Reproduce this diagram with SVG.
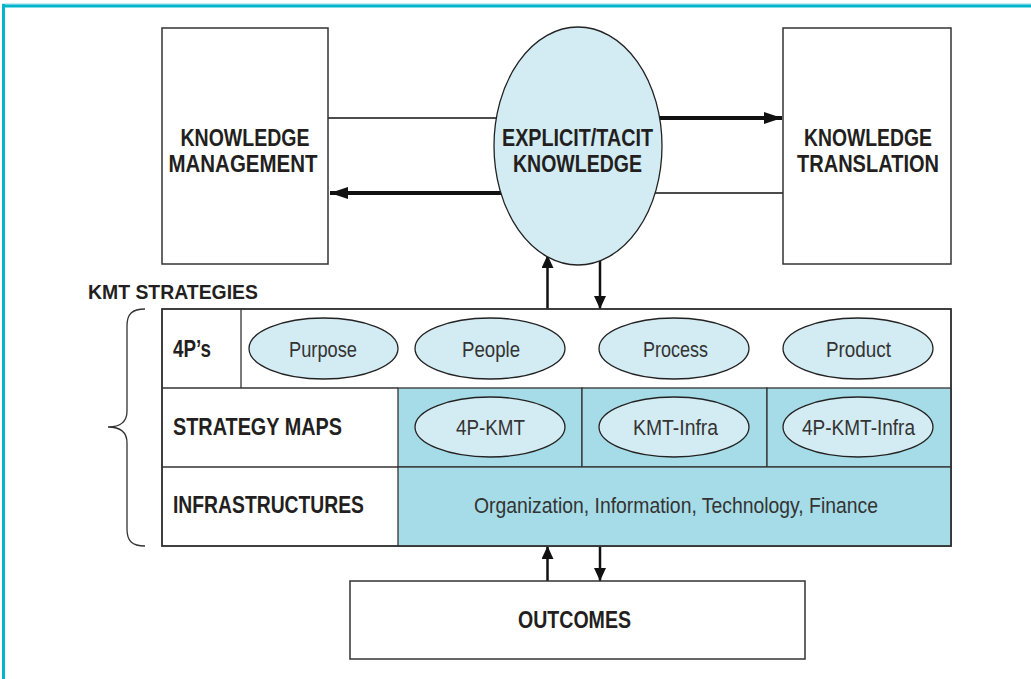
<svg xmlns="http://www.w3.org/2000/svg" width="1031" height="679" viewBox="0 0 1031 679">
<style>
.box{fill:#fff;stroke:#333;stroke-width:1.5}
.ell{fill:#d3ebf2;stroke:#222;stroke-width:1.3}
.teal{fill:#a6dce7;stroke:#333;stroke-width:1.3}
.ln{stroke:#333;stroke-width:1.3;fill:none}
.thin{stroke:#111;stroke-width:1.5;fill:none}
.thick{stroke:#111;stroke-width:4;fill:none}
.med{stroke:#111;stroke-width:2.5;fill:none}
.b{font-family:"Liberation Sans",Arial,sans-serif;font-weight:bold;fill:#231f20}
.r{font-family:"Liberation Sans",Arial,sans-serif;fill:#333}
</style>
<defs>
<marker id="ah" markerUnits="userSpaceOnUse" markerWidth="20" markerHeight="14" refX="18" refY="6" orient="auto">
<path d="M0,0 L18,6 L0,12 Z" fill="#111"/>
</marker>
<marker id="as" markerUnits="userSpaceOnUse" markerWidth="14" markerHeight="14" refX="13" refY="6" orient="auto">
<path d="M0,0 L13,6 L0,12 Z" fill="#111"/>
</marker>
</defs>
<rect x="0" y="0" width="1031" height="679" fill="#fff"/>
<g id="frame">
<line x1="2" y1="4" x2="1031" y2="4" stroke="#8fdbe6" stroke-width="1"/>
<line x1="2" y1="6" x2="1031" y2="6" stroke="#00b5cc" stroke-width="3"/>
<line x1="3.5" y1="4" x2="3.5" y2="679" stroke="#00b5cc" stroke-width="3"/>
</g>
<g id="connectors">
<line class="thin" x1="328" y1="118" x2="520" y2="118"/>
<line class="thick" x1="640" y1="118" x2="782" y2="118" marker-end="url(#ah)"/>
<line class="thick" x1="520" y1="193" x2="330" y2="193" marker-end="url(#ah)"/>
<line class="thin" x1="640" y1="193" x2="783" y2="193"/>
<line class="med" x1="547.5" y1="309" x2="547.5" y2="255" marker-end="url(#as)"/>
<line class="med" x1="600" y1="255" x2="600" y2="309" marker-end="url(#as)"/>
<line class="med" x1="547.5" y1="581" x2="547.5" y2="546" marker-end="url(#as)"/>
<line class="med" x1="600" y1="546" x2="600" y2="581" marker-end="url(#as)"/>
</g>
<g id="km">
<rect class="box" x="162" y="28" width="166" height="236"/>
<text class="b" font-size="23" text-anchor="middle" x="245" y="146" textLength="129" lengthAdjust="spacingAndGlyphs">KNOWLEDGE</text>
<text class="b" font-size="23" text-anchor="middle" x="243" y="172" textLength="149" lengthAdjust="spacingAndGlyphs">MANAGEMENT</text>
</g>
<g id="kt">
<rect class="box" x="783" y="28" width="168" height="236"/>
<text class="b" font-size="23" text-anchor="middle" x="868" y="146" textLength="128" lengthAdjust="spacingAndGlyphs">KNOWLEDGE</text>
<text class="b" font-size="23" text-anchor="middle" x="868" y="172" textLength="142" lengthAdjust="spacingAndGlyphs">TRANSLATION</text>
</g>
<g id="etk">
<ellipse class="ell" cx="578" cy="146" rx="84" ry="119"/>
<text class="b" font-size="23" text-anchor="middle" x="577.5" y="146" textLength="151" lengthAdjust="spacingAndGlyphs">EXPLICIT/TACIT</text>
<text class="b" font-size="23" text-anchor="middle" x="577.5" y="172" textLength="129" lengthAdjust="spacingAndGlyphs">KNOWLEDGE</text>
</g>
<g id="kmt-label">
<text class="b" font-size="21" x="88" y="299" textLength="170" lengthAdjust="spacingAndGlyphs">KMT STRATEGIES</text>
<path class="ln" d="M145,309 C132,309 127,314 127,326 L127,411 C127,421 121,427 108,427 C121,427 127,433 127,443 L127,529 C127,541 132,546 145,546"/>
</g>
<g id="table">
<rect class="box" x="162" y="309" width="789" height="237"/>
<rect class="teal" x="398" y="388" width="184" height="79"/>
<rect class="teal" x="582" y="388" width="185" height="79"/>
<rect class="teal" x="767" y="388" width="184" height="79"/>
<rect class="teal" x="398" y="467" width="553" height="79"/>
<line class="ln" x1="162" y1="388" x2="398" y2="388"/>
<line class="ln" x1="162" y1="467" x2="398" y2="467"/>
<line class="ln" x1="241" y1="309" x2="241" y2="388"/>
<rect x="162" y="309" width="789" height="237" fill="none" stroke="#333" stroke-width="1.5"/>
</g>
<g id="row-4ps">
<text class="b" font-size="23" x="173" y="357" textLength="38" lengthAdjust="spacingAndGlyphs">4P’s</text>
</g>
<g id="purpose"><ellipse class="ell" cx="323.5" cy="348.5" rx="74.5" ry="30.5"/><text class="r" font-size="22" text-anchor="middle" x="323" y="357" textLength="68" lengthAdjust="spacingAndGlyphs">Purpose</text></g>
<g id="people"><ellipse class="ell" cx="490" cy="348.5" rx="75" ry="30.5"/><text class="r" font-size="22" text-anchor="middle" x="491" y="357" textLength="58" lengthAdjust="spacingAndGlyphs">People</text></g>
<g id="process"><ellipse class="ell" cx="674" cy="348.5" rx="75" ry="30.5"/><text class="r" font-size="22" text-anchor="middle" x="675.5" y="357" textLength="65" lengthAdjust="spacingAndGlyphs">Process</text></g>
<g id="product"><ellipse class="ell" cx="858" cy="348.5" rx="75" ry="30.5"/><text class="r" font-size="22" text-anchor="middle" x="858.5" y="357" textLength="65" lengthAdjust="spacingAndGlyphs">Product</text></g>
<g id="row-maps">
<text class="b" font-size="23" x="173" y="435" textLength="169" lengthAdjust="spacingAndGlyphs">STRATEGY MAPS</text>
</g>
<g id="m1"><ellipse class="ell" cx="490" cy="427" rx="75" ry="30"/><text class="r" font-size="22" text-anchor="middle" x="490.5" y="435" textLength="69" lengthAdjust="spacingAndGlyphs">4P-KMT</text></g>
<g id="m2"><ellipse class="ell" cx="674" cy="427" rx="75" ry="30"/><text class="r" font-size="22" text-anchor="middle" x="675.5" y="435" textLength="85" lengthAdjust="spacingAndGlyphs">KMT-Infra</text></g>
<g id="m3"><ellipse class="ell" cx="858" cy="427" rx="75" ry="30"/><text class="r" font-size="22" text-anchor="middle" x="858.5" y="435" textLength="113" lengthAdjust="spacingAndGlyphs">4P-KMT-Infra</text></g>
<g id="row-infra">
<text class="b" font-size="23" x="173" y="513" textLength="191" lengthAdjust="spacingAndGlyphs">INFRASTRUCTURES</text>
<text class="r" font-size="22" text-anchor="middle" x="676" y="513" textLength="404" lengthAdjust="spacingAndGlyphs">Organization, Information, Technology, Finance</text>
</g>
<g id="outcomes">
<rect class="box" x="350" y="581" width="455" height="78"/>
<text class="b" font-size="23" text-anchor="middle" x="574.5" y="628" textLength="113" lengthAdjust="spacingAndGlyphs">OUTCOMES</text>
</g>
</svg>
